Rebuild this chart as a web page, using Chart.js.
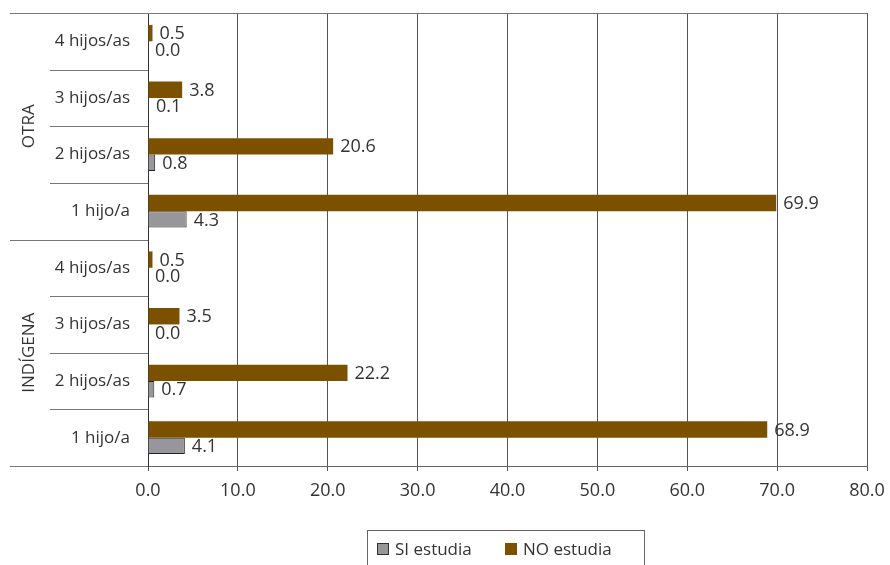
<!DOCTYPE html>
<html>
<head>
<meta charset="utf-8">
<script src="https://cdn.jsdelivr.net/npm/chart.js@4/dist/chart.umd.min.js"></script>
<style>
  body { margin: 0; background: #fff; }
  canvas { display: block; }
</style>
</head>
<body>
<canvas id="chart" width="890" height="565"></canvas>
<script>
// Data
const rowLabels = ['4 hijos/as', '3 hijos/as', '2 hijos/as', '1 hijo/a', '4 hijos/as', '3 hijos/as', '2 hijos/as', '1 hijo/a'];
const groupLabels = ['OTRA', 'INDÍGENA'];
const groupSize = 4;
const siEstudia = [0.0, 0.1, 0.8, 4.3, 0.0, 0.0, 0.7, 4.1];
const noEstudia = [0.5, 3.8, 20.6, 69.9, 0.5, 3.5, 22.2, 68.9];
const xTicks = [0, 10, 20, 30, 40, 50, 60, 70, 80];

const SI_COLOR = '#97979b';
const NO_COLOR = '#7b5100';
const TEXT = '#333';
const NUM_FONT = "18px 'Open Sans', sans-serif";

Chart.defaults.font.family = "'Open Sans', sans-serif";
Chart.defaults.font.size = 17;
Chart.defaults.color = TEXT;

// value labels next to each bar
const valueLabels = {
    id: 'valueLabels',
    afterDatasetsDraw(chart) {
        const ctx = chart.ctx;
        ctx.save();
        ctx.font = NUM_FONT;
        ctx.fillStyle = TEXT;
        ctx.textAlign = 'left';
        ctx.textBaseline = 'middle';
        chart.data.datasets.forEach((ds, i) => {
            chart.getDatasetMeta(i).data.forEach((bar, j) => {
                ctx.fillText(ds.data[j].toFixed(1), bar.x + 7, bar.y + 1);
            });
        });
        ctx.restore();
    }
};

// row separators, group labels, frame and boxed legend
const decorations = {
    id: 'decorations',
    afterDraw(chart) {
        const ctx = chart.ctx;
        const y = chart.scales.y;
        const area = chart.chartArea;
        const rowH = y.getPixelForValue(1) - y.getPixelForValue(0);
        ctx.save();
        ctx.lineWidth = 1;
        ctx.strokeStyle = '#777';
        for (let i = 0; i <= rowLabels.length; i++) {
            const py = Math.round(y.getPixelForValue(i) - rowH / 2) + 0.5;
            const isGroupEdge = i % groupSize === 0;
            ctx.beginPath();
            ctx.moveTo(isGroupEdge ? 10 : 50, py);
            ctx.lineTo(area.left, py);
            ctx.stroke();
        }
        // top frame line
        ctx.beginPath();
        ctx.moveTo(area.left, Math.round(area.top) + 0.5);
        ctx.lineTo(area.right, Math.round(area.top) + 0.5);
        ctx.stroke();

        // group labels
        ctx.fillStyle = TEXT;
        ctx.font = "17px 'Open Sans', sans-serif";
        ctx.textAlign = 'center';
        ctx.textBaseline = 'middle';
        groupLabels.forEach((g, gi) => {
            const first = gi * groupSize;
            const cy = (y.getPixelForValue(first) + y.getPixelForValue(first + groupSize - 1)) / 2;
            ctx.save();
            ctx.translate(29, cy);
            ctx.rotate(-Math.PI / 2);
            ctx.fillText(g, 0, 0);
            ctx.restore();
        });

        // legend box
        ctx.strokeStyle = '#666';
        ctx.strokeRect(367.5, 530.5, 277, 60);
        const items = [
            { label: 'SI estudia', color: SI_COLOR, border: '#333', x: 377 },
            { label: 'NO estudia', color: NO_COLOR, border: NO_COLOR, x: 505 }
        ];
        ctx.textAlign = 'left';
        items.forEach(it => {
            ctx.fillStyle = it.color;
            ctx.fillRect(it.x, 543, 12, 12);
            ctx.strokeStyle = it.border;
            ctx.strokeRect(it.x + 0.5, 543.5, 11, 11);
            ctx.fillStyle = TEXT;
            ctx.fillText(it.label, it.x + 18, 550);
        });
        ctx.restore();
    }
};

new Chart(document.getElementById('chart'), {
    type: 'bar',
    data: {
        labels: rowLabels,
        datasets: [
            {
                label: 'NO estudia',
                data: noEstudia,
                backgroundColor: NO_COLOR,
                borderWidth: 0
            },
            {
                label: 'SI estudia',
                data: siEstudia,
                backgroundColor: SI_COLOR,
                borderColor: '#222',
                borderWidth: 1
            }
        ]
    },
    options: {
        indexAxis: 'y',
        responsive: false,
        animation: false,
        datasets: {
            bar: { categoryPercentage: 0.58, barPercentage: 1 }
        },
        layout: { padding: { left: 0, top: 13, right: 23, bottom: 0 } },
        plugins: {
            legend: { display: false },
            tooltip: { enabled: false }
        },
        scales: {
            x: {
                min: 0,
                max: 80,
                afterBuildTicks: (scale) => { scale.ticks = xTicks.map(v => ({ value: v })); },
                ticks: {
                    callback: (v) => Number(v).toFixed(1),
                    padding: 9,
                    color: TEXT,
                    font: { size: 18 }
                },
                grid: { color: '#555', tickLength: 5, drawTicks: true },
                border: { color: '#666' },
                afterFit: (scale) => {
                    scale.height = 99;
                    scale.paddingLeft = 0;
                    scale.paddingRight = 0;
                }
            },
            y: {
                ticks: { padding: 18, color: TEXT },
                grid: { display: false, drawTicks: false },
                border: { color: '#333' },
                afterFit: (scale) => {
                    scale.width = 148;
                    scale.paddingTop = 0;
                    scale.paddingBottom = 0;
                }
            }
        }
    },
    plugins: [valueLabels, decorations]
});
</script>
</body>
</html>
